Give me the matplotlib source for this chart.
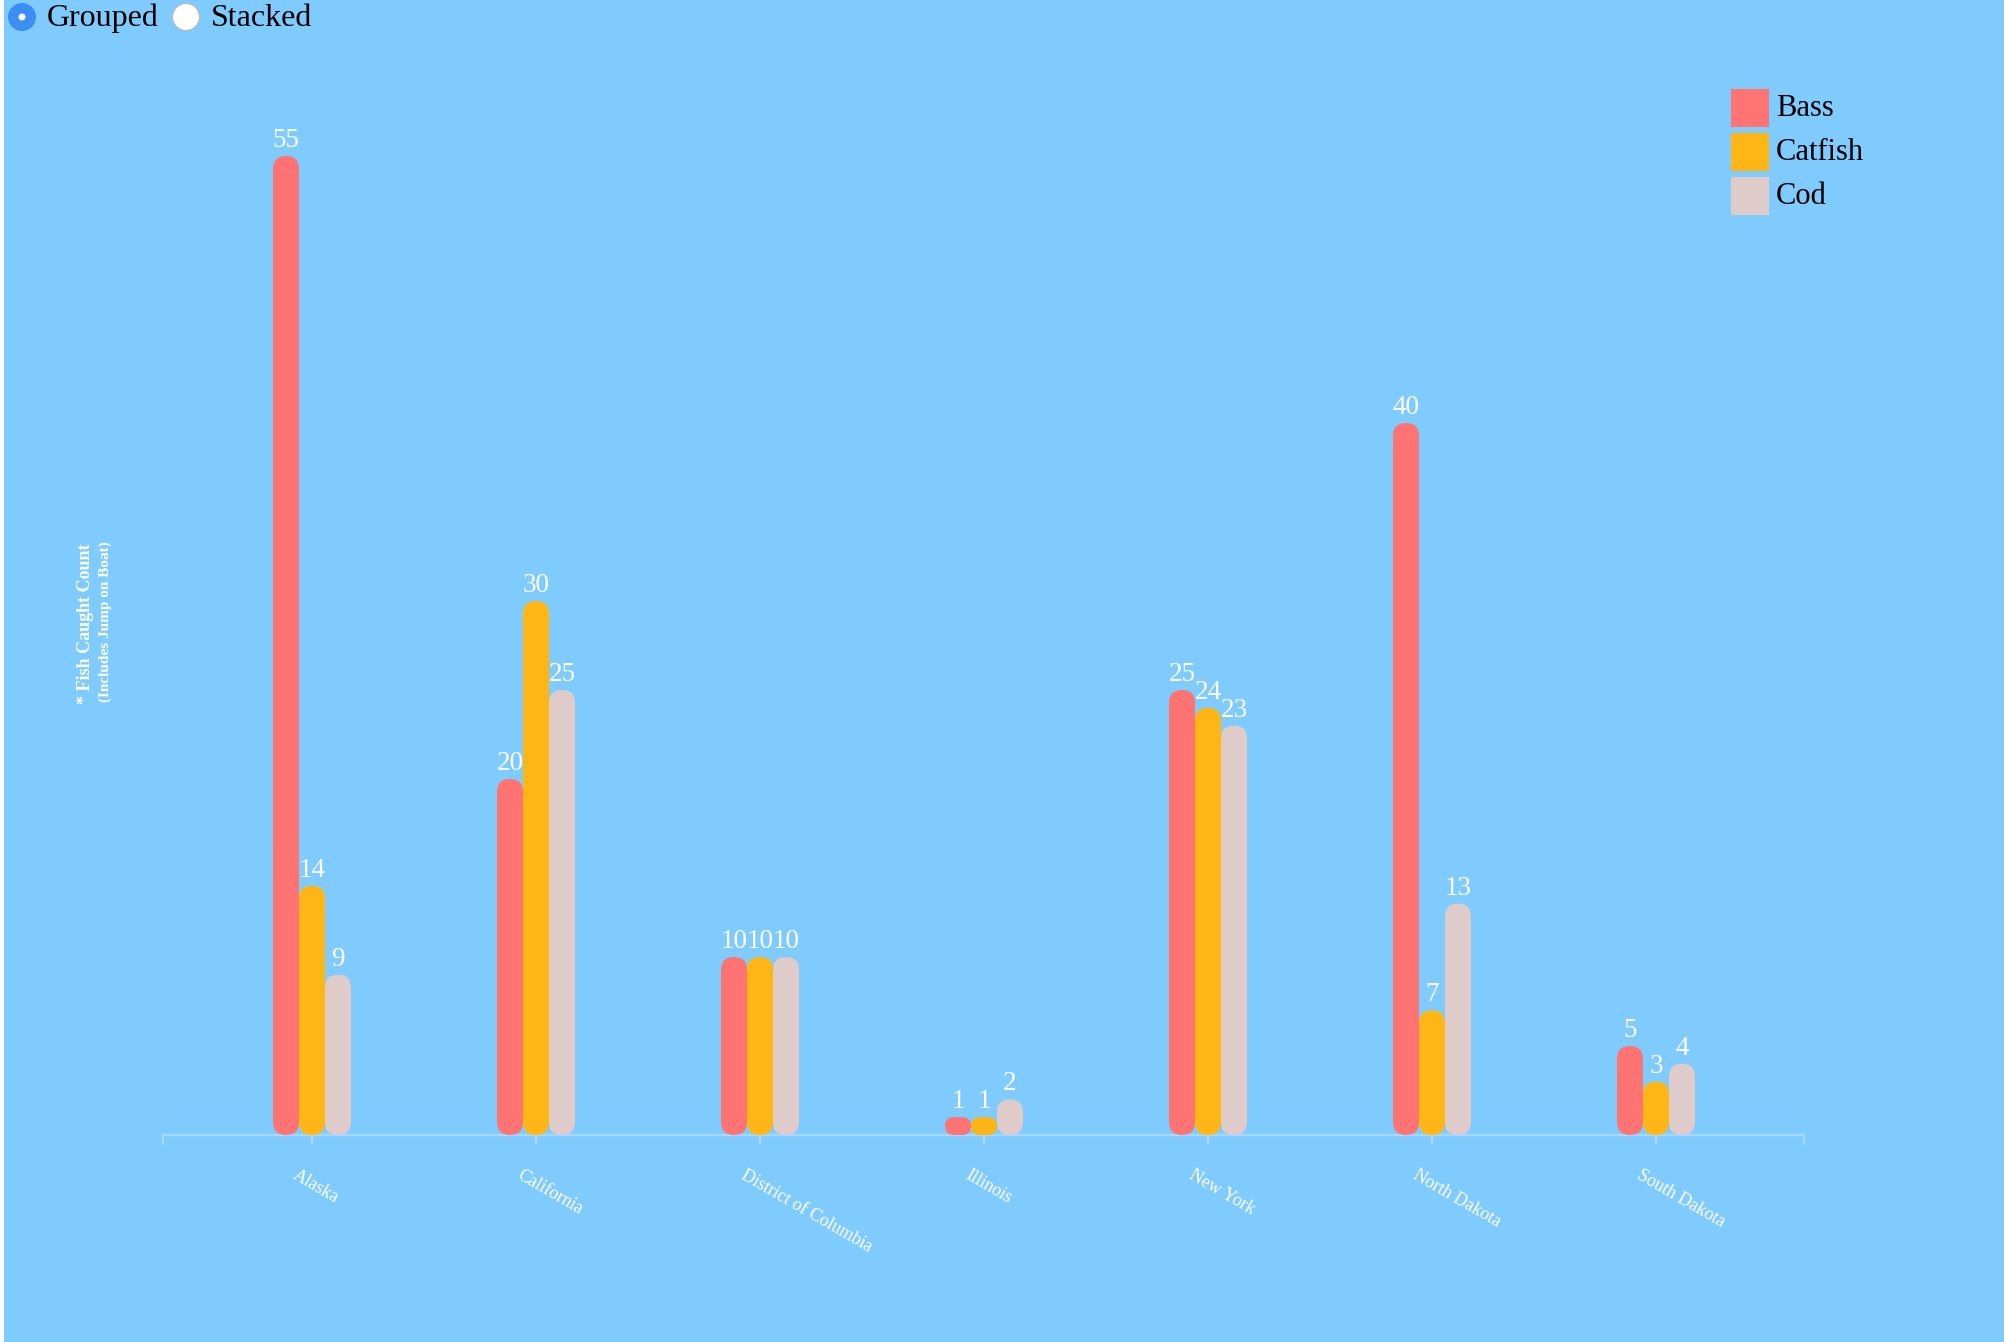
import matplotlib
matplotlib.use("Agg")
import matplotlib.pyplot as plt
from matplotlib.patches import FancyBboxPatch, Rectangle, Ellipse
from matplotlib.transforms import ScaledTranslation

# data
states = ["Alaska", "California", "District of Columbia", "Illinois",
          "New York", "North Dakota", "South Dakota"]
series = ["Bass", "Catfish", "Cod"]
bass = [55, 20, 10, 1, 25, 40, 5]
catfish = [14, 30, 10, 1, 24, 7, 3]
cod = [9, 25, 10, 2, 23, 13, 4]
values = [bass, catfish, cod]
colors = ["#FF7373", "#FDB616", "#DFCBCA"]

BG = "#80CBFD"
AXIS = "#A4D9FD"
W, H = 2008, 1342
plt.rcParams["font.family"] = ["Liberation Serif", "DejaVu Serif"]


def fx(x):
    return x / W


def fy(y):
    return 1 - y / H


fig = plt.figure(figsize=(W / 100, H / 100), dpi=100)
fig.patch.set_facecolor("white")
fig.add_artist(Rectangle((fx(4), 0), 2000 / W, 1, transform=fig.transFigure,
                         facecolor=BG, edgecolor="none", zorder=-10))

# plot area: baseline at y=1135 px, axis from x=163 to 1804 px
ax = fig.add_axes([fx(163), fy(1135), 1641 / W, 1000 / H])
ax.set_facecolor("none")
x0, x1 = -0.6652, 6.6607
ax.set_xlim(x0, x1)
ax.set_ylim(0, 1000 / 17.8)
for s in ["left", "right", "top"]:
    ax.spines[s].set_visible(False)
ax.spines["bottom"].set_color(AXIS)
ax.spines["bottom"].set_linewidth(1.6)
ax.set_yticks([])
ax.set_xticks([x0] + list(range(len(states))) + [x1])
ax.set_xticklabels([])
ax.tick_params(axis="x", length=7.2, width=1.6, color=AXIS, direction="out")

# aspect so the rounded corners stay circular
px_x = 1641 / (x1 - x0)
px_y = 1000 / (ax.get_ylim()[1])
m_asp = px_x / px_y
bw = 26 / px_x

for j, (vals, c) in enumerate(zip(values, colors)):
    for i, v in enumerate(vals):
        xc = i + (j - 1) * bw
        r = min(bw / 2, v / m_asp / 2)
        p = FancyBboxPatch((xc - bw / 2, 0), bw, v,
                           boxstyle=f"round,pad=0,rounding_size={r}",
                           mutation_aspect=m_asp, facecolor=c,
                           edgecolor="none", clip_on=False, zorder=3)
        ax.add_patch(p)
        ax.annotate(str(v), (xc, v), xytext=(0, 9), textcoords="offset pixels",
                    ha="center", va="baseline", color="white", fontsize=19.5,
                    zorder=4)

# category labels, rotated
for i, name in enumerate(states):
    off = ScaledTranslation(-20 / 100, -43 / 100, fig.dpi_scale_trans)
    ax.text(i, 0, name, transform=ax.transData + off, rotation=-30,
            rotation_mode="anchor", ha="left", va="baseline",
            color="white", fontsize=13)

# y label
fig.text(fx(86), fy(624), "* Fish Caught Count", rotation=90, ha="center",
         va="center", color="white", fontsize=13, fontweight="bold")
fig.text(fx(105), fy(622), "(Includes Jump on Boat)", rotation=90,
         ha="center", va="center", color="white", fontsize=11,
         fontweight="bold")

# legend
for k, (name, c) in enumerate(zip(series, colors)):
    top = 89 + 44 * k
    fig.add_artist(Rectangle((fx(1731), fy(top + 38)), 38 / W, 38 / H,
                             transform=fig.transFigure, facecolor=c,
                             edgecolor="none"))
    fig.text(fx(1776), fy(top + 19), name, ha="left", va="center",
             color="black", fontsize=22)

# radio buttons
fig.add_artist(Ellipse((fx(22), fy(17)), 28 / W, 28 / H,
                       transform=fig.transFigure, facecolor="#3B8EF2",
                       edgecolor="none"))
fig.add_artist(Ellipse((fx(22), fy(17)), 7 / W, 7 / H,
                       transform=fig.transFigure, facecolor="white",
                       edgecolor="none"))
fig.add_artist(Ellipse((fx(186), fy(17)), 27 / W, 27 / H,
                       transform=fig.transFigure, facecolor="white",
                       edgecolor="#B8B8B8", linewidth=0.8))
fig.text(fx(47), fy(26), "Grouped", ha="left", va="baseline", fontsize=23)
fig.text(fx(211), fy(26), "Stacked", ha="left", va="baseline", fontsize=23)

fig.savefig("out.png", dpi=100, facecolor=fig.get_facecolor())
